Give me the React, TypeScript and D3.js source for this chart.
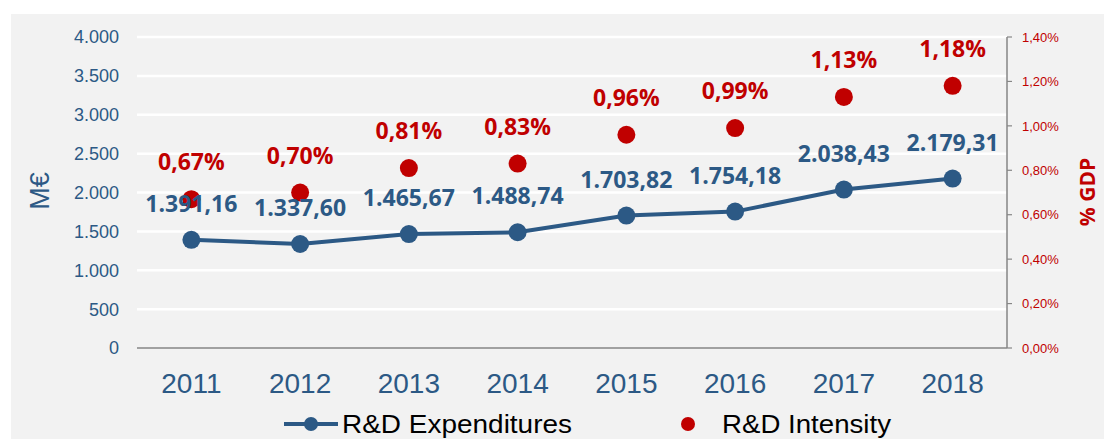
import React from "react";
import * as d3 from "d3";

const years = ["2011", "2012", "2013", "2014", "2015", "2016", "2017", "2018"];
const expenditures = [1391.16, 1337.6, 1465.67, 1488.74, 1703.82, 1754.18, 2038.43, 2179.31];
const expenditureLabels = ["1.391,16", "1.337,60", "1.465,67", "1.488,74", "1.703,82", "1.754,18", "2.038,43", "2.179,31"];
const intensity = [0.67, 0.7, 0.81, 0.83, 0.96, 0.99, 1.13, 1.18];
const intensityLabels = ["0,67%", "0,70%", "0,81%", "0,83%", "0,96%", "0,99%", "1,13%", "1,18%"];
const leftTicks = [0, 500, 1000, 1500, 2000, 2500, 3000, 3500, 4000];
const leftTickLabels = ["0", "500", "1.000", "1.500", "2.000", "2.500", "3.000", "3.500", "4.000"];
const rightTicks = [0, 0.2, 0.4, 0.6, 0.8, 1.0, 1.2, 1.4];
const rightTickLabels = ["0,00%", "0,20%", "0,40%", "0,60%", "0,80%", "1,00%", "1,20%", "1,40%"];

const BLUE = "#2c5985";
const RED = "#c00000";
const SANS = "'Liberation Sans', Arial, sans-serif";
const BOLD = "'Open Sans', sans-serif";

export default function App() {
  const W = 1104, H = 439;
  const left = 137, right = 1007, top = 37, bottom = 348;
  const x = d3.scaleBand<string>().domain(years).range([left, right]).padding(0);
  const cx = (y: string) => (x(y) as number) + x.bandwidth() / 2;
  const yL = d3.scaleLinear().domain([0, 4000]).range([bottom, top]);
  const yR = d3.scaleLinear().domain([0, 1.4]).range([bottom, top]);
  const line = d3.line<number>().x((_, i) => cx(years[i])).y((d) => yL(d));

  return (
    <svg width={W} height={H} style={{ position: "absolute", left: 0, top: 0 }}>
      <rect x={0} y={0} width={W} height={H} fill="#ffffff" />
      <rect x={11} y={14} width={W - 11} height={H - 14} fill="#f2f2f2" />
      {leftTicks.filter((t) => t > 0).map((t) => (
        <line key={t} x1={left} x2={right} y1={yL(t)} y2={yL(t)} stroke="#ffffff" strokeWidth={2.5} />
      ))}
      <line x1={left} x2={right} y1={bottom} y2={bottom} stroke="#868686" strokeWidth={1.5} />
      <line x1={right} x2={right} y1={top} y2={bottom} stroke="#868686" strokeWidth={1.5} />
      {rightTicks.map((t) => (
        <line key={t} x1={right} x2={right + 5} y1={yR(t)} y2={yR(t)} stroke="#868686" strokeWidth={1.2} />
      ))}
      {leftTicks.map((t, i) => (
        <text key={t} x={119} y={yL(t)} dy="0.36em" textAnchor="end" fontFamily={SANS} fontSize={18} fill={BLUE}>
          {leftTickLabels[i]}
        </text>
      ))}
      {rightTicks.map((t, i) => (
        <text key={t} x={1022} y={yR(t)} dy="0.36em" fontFamily={SANS} fontSize={13} fill={RED}>
          {rightTickLabels[i]}
        </text>
      ))}
      {years.map((y) => (
        <text key={y} x={cx(y)} y={393} textAnchor="middle" fontFamily={SANS} fontSize={28} fill={BLUE}>
          {y}
        </text>
      ))}
      <text transform={`translate(49,191) rotate(-90)`} textAnchor="middle" fontFamily={SANS} fontSize={27} fill={BLUE}>
        M€
      </text>
      <text transform={`translate(1095,192) rotate(-90)`} textAnchor="middle" fontFamily={BOLD} fontWeight="bold" fontSize={21} fill={RED}>
        % GDP
      </text>
      {intensity.map((v, i) => (
        <circle key={"r" + i} cx={cx(years[i])} cy={yR(v)} r={9} fill={RED} />
      ))}
      <path d={line(expenditures) || ""} fill="none" stroke={BLUE} strokeWidth={4} />
      {expenditures.map((v, i) => (
        <circle key={"b" + i} cx={cx(years[i])} cy={yL(v)} r={9} fill={BLUE} />
      ))}
      {intensity.map((v, i) => (
        <text key={"rl" + i} x={cx(years[i])} y={yR(v) - 29} textAnchor="middle" fontFamily={BOLD} fontWeight="bold" fontSize={23} fill={RED}>
          {intensityLabels[i]}
        </text>
      ))}
      {expenditures.map((v, i) => (
        <text key={"bl" + i} x={cx(years[i])} y={yL(v) - 28} textAnchor="middle" fontFamily={BOLD} fontWeight="bold" fontSize={23} fill={BLUE}>
          {expenditureLabels[i]}
        </text>
      ))}
      <line x1={284} x2={338} y1={424} y2={424} stroke={BLUE} strokeWidth={4} />
      <circle cx={311} cy={424} r={7} fill={BLUE} />
      <text x={342} y={433} fontFamily={SANS} fontSize={25} fill="#000" textLength={230} lengthAdjust="spacingAndGlyphs">
        R&amp;D Expenditures
      </text>
      <circle cx={688} cy={424} r={7} fill={RED} />
      <text x={722} y={433} fontFamily={SANS} fontSize={25} fill="#000" textLength={169} lengthAdjust="spacingAndGlyphs">
        R&amp;D Intensity
      </text>
    </svg>
  );
}
